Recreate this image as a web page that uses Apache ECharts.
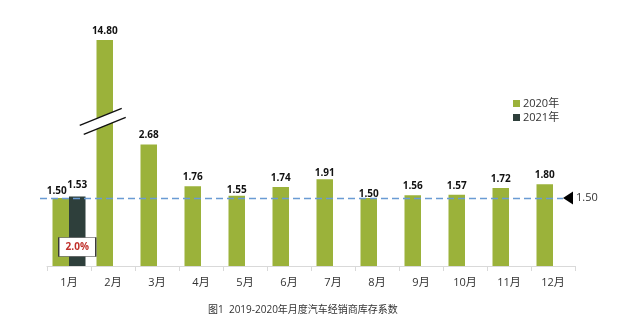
<!DOCTYPE html>
<html>
<head>
<meta charset="utf-8">
<style>
  html, body { margin: 0; padding: 0; background: #ffffff; }
  #chart { width: 628px; height: 333px; }
</style>
<script src="https://cdn.jsdelivr.net/npm/echarts@6/dist/echarts.min.js"></script>
</head>
<body>
<div id="chart"></div>
<script>
// Monthly dealer inventory coefficient
const months = ['1月', '2月', '3月', '4月', '5月', '6月', '7月', '8月', '9月', '10月', '11月', '12月'];
const inv2020 = [1.50, 14.80, 2.68, 1.76, 1.55, 1.74, 1.91, 1.50, 1.56, 1.57, 1.72, 1.80];
const inv2021 = [1.53, null, null, null, null, null, null, null, null, null, null, null];
const seriesNames = ['2020年', '2021年'];
const warningLine = 1.5;
const titleText = '图1  2019-2020年月度汽车经销商库存系数';

// year-on-year change for January
const janGrowth = ((inv2021[0] / inv2020[0] - 1) * 100).toFixed(1) + '%';

const FONT = '"Open Sans", "Noto Sans CJK SC", sans-serif';
const GREEN = '#9bb23a';
const DARK = '#2e3f3b';
const BAR_W = 16.5;

// small nudges for labels that sit close to the dashed line
const labelNudge2020 = { 0: [-4, 2.5], 4: [0, 3], 6: [0, 3], 7: [0, 5] };
const labelNudge2021 = { 0: [0, -2.5] };

function withLabels(values, nudges) {
  return values.map((v, i) => {
    if (v == null) return v;
    const item = { value: v };
    if (nudges[i]) item.label = { offset: nudges[i] };
    return item;
  });
}

const valueLabel = {
  show: true,
  position: 'top',
  distance: 4,
  fontFamily: FONT,
  fontSize: 10,
  fontWeight: 'bold',
  color: '#111',
  formatter: p => Number(p.value).toFixed(2)
};

const chart = echarts.init(document.getElementById('chart'), null, { renderer: 'canvas' });

chart.setOption({
  animation: false,
  backgroundColor: '#ffffff',
  textStyle: { fontFamily: FONT },
  title: {
    text: titleText,
    left: 203,
    top: 300,
    textStyle: { fontFamily: FONT, fontSize: 10, fontWeight: 'normal', color: '#333' }
  },
  legend: {
    data: seriesNames,
    orient: 'vertical',
    left: 513,
    top: 98,
    padding: 0,
    itemWidth: 7,
    itemHeight: 7,
    itemGap: 3,
    icon: 'rect',
    textStyle: { fontFamily: FONT, fontSize: 11, color: '#333', padding: [0, 0, 0, -2] }
  },
  grid: { left: 47, right: 53, top: 31, bottom: 67 },
  xAxis: {
    type: 'category',
    data: months,
    boundaryGap: true,
    axisLine: { lineStyle: { color: '#d9d9d9', width: 1 } },
    axisTick: { show: true, length: 5, lineStyle: { color: '#d9d9d9' } },
    axisLabel: { fontFamily: FONT, fontSize: 11, color: '#333', margin: 11 }
  },
  yAxis: {
    type: 'value',
    min: 0,
    max: 15,
    show: false,
    splitLine: { show: false },
    breaks: [{ start: 3.1, end: 13.1, gap: 0.18 }],
    breakArea: { show: false, itemStyle: { opacity: 0 } }
  },
  series: [
    {
      name: seriesNames[0],
      type: 'bar',
      barWidth: BAR_W,
      barGap: '0%',
      itemStyle: { color: GREEN },
      label: valueLabel,
      data: withLabels(inv2020, labelNudge2020),
      // dashed reference level
      markLine: {
        silent: true,
        animation: false,
        symbol: ['none', 'none'],
        lineStyle: { color: '#6a9bd4', width: 1.3, type: [7, 4] },
        label: { show: false },
        emphasis: { disabled: true },
        data: [[
          { yAxis: warningLine, x: 40 },
          { yAxis: warningLine, x: 563 }
        ]]
      },
      // pointer and value at the end of the reference level
      markPoint: {
        silent: true,
        animation: false,
        symbol: 'path://M10,0 L0,5 L10,10 Z',
        symbolSize: [10, 13],
        itemStyle: { color: '#000' },
        label: {
          show: true,
          position: 'right',
          distance: 3,
          fontFamily: FONT,
          fontSize: 11,
          color: '#333',
          formatter: warningLine.toFixed(2)
        },
        data: [{ yAxis: warningLine, x: 568 }]
      }
    },
    {
      name: seriesNames[1],
      type: 'bar',
      barWidth: BAR_W,
      itemStyle: { color: DARK },
      label: valueLabel,
      data: withLabels(inv2021, labelNudge2021),
      markPoint: {
        silent: true,
        animation: false,
        symbol: 'rect',
        symbolSize: [37, 19],
        symbolOffset: [0, -19],
        itemStyle: { color: '#ffffff', borderColor: '#333', borderWidth: 1 },
        label: {
          show: true,
          position: 'inside',
          fontFamily: FONT,
          fontSize: 10,
          fontWeight: 'bold',
          color: '#c0302b',
          formatter: janGrowth
        },
        data: [{ coord: [months[0], 0] }]
      }
    }
  ]
});

// Break marks across the tall February bar, placed on the axis break
function drawBreakMarks() {
  const bk = chart.getOption().yAxis[0].breaks[0];
  const yA = chart.convertToPixel({ yAxisIndex: 0 }, bk.start);
  const yB = chart.convertToPixel({ yAxisIndex: 0 }, bk.end);
  const cy = (yA + yB) / 2;
  const cx = chart.convertToPixel({ xAxisIndex: 0 }, months[1]) - BAR_W / 2;
  const top = [[-25, 4], [17, -13]];
  const bot = [[-21, 13], [21, -4]];
  const p = pt => [cx + pt[0], cy + pt[1]];
  chart.setOption({
    graphic: [
      {
        type: 'polygon', silent: true, z: 100,
        shape: { points: [p(top[0]), p(top[1]), p(bot[1]), p(bot[0])] },
        style: { fill: '#ffffff' }
      },
      {
        type: 'line', silent: true, z: 101,
        shape: { x1: p(top[0])[0], y1: p(top[0])[1], x2: p(top[1])[0], y2: p(top[1])[1] },
        style: { stroke: '#111', lineWidth: 1.4 }
      },
      {
        type: 'line', silent: true, z: 101,
        shape: { x1: p(bot[0])[0], y1: p(bot[0])[1], x2: p(bot[1])[0], y2: p(bot[1])[1] },
        style: { stroke: '#111', lineWidth: 1.4 }
      }
    ]
  });
}
drawBreakMarks();
</script>
</body>
</html>
